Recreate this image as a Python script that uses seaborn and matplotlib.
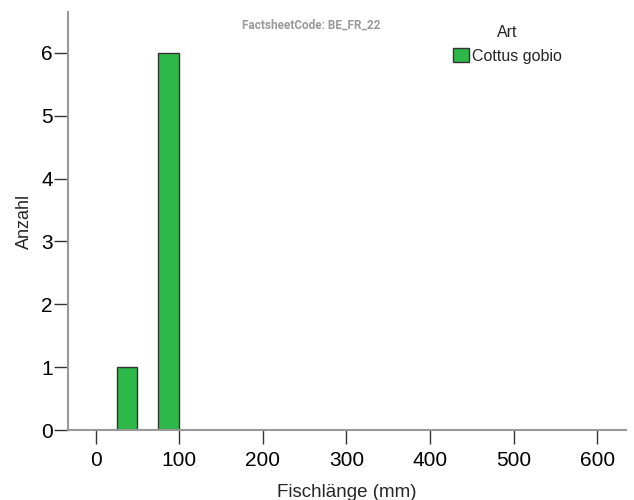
import numpy as np
import pandas as pd
import matplotlib
matplotlib.use("Agg")
import matplotlib.pyplot as plt
import seaborn as sns
from matplotlib.patches import Patch

# Histogram bins (mm) and counts per bin
bin_left = [25, 75]
bin_width = 25
counts = [1, 6]
species = ["Cottus gobio", "Cottus gobio"]

x_ticks = [0, 100, 200, 300, 400, 500, 600]
y_ticks = [0, 1, 2, 3, 4, 5, 6]

df = pd.DataFrame({
    "mid": [b + bin_width / 2 for b in bin_left],
    "Anzahl": counts,
    "Art": species,
})

sns.set_style("white")
plt.rcParams["font.family"] = ["Liberation Sans", "DejaVu Sans"]

fig = plt.figure(figsize=(6.34, 5.0), dpi=100)
ax = fig.add_axes([0.1073, 0.14, 0.8797, 0.836])

sns.histplot(data=df, x="mid", weights="Anzahl", hue="Art",
             binwidth=bin_width, binrange=(min(bin_left), max(bin_left) + bin_width),
             palette=["#2db84a"], alpha=1, edgecolor="#333333", linewidth=1,
             ax=ax, legend=False)

# drop empty bins so they don't leave an edge on the baseline
for p in list(ax.patches):
    if p.get_height() == 0:
        p.remove()

ax.set_xlim(-33, 634)
ax.set_ylim(0, 6.65)
ax.set_xticks(x_ticks)
ax.set_yticks(y_ticks)
ax.tick_params(axis="both", labelsize=15, colors="#333333", labelcolor="black",
               direction="out", width=1, bottom=True, left=True)
ax.tick_params(axis="x", length=10, pad=5)
ax.tick_params(axis="y", length=10, pad=1)

for s in ["top", "right"]:
    ax.spines[s].set_visible(False)
for s in ["left", "bottom"]:
    ax.spines[s].set_color("#999999")
    ax.spines[s].set_linewidth(1.5)

ax.set_xlabel("Fischlänge (mm)", fontsize=13.5, labelpad=10)
ax.set_ylabel("Anzahl", fontsize=13, labelpad=6)

fig.text(311 / 634, 1 - 25 / 500, "FactsheetCode: BE_FR_22", fontsize=8.5,
         color="#999999", fontweight="bold", family="Roboto",
         ha="center", va="center")

handles = [Patch(facecolor="#2db84a", edgecolor="#333333", label=species[0])]
leg = fig.legend(handles=handles, title="Art", loc="upper left",
                 bbox_to_anchor=(0.695, 0.975), frameon=False, fontsize=11.5,
                 title_fontsize=11.5, handlelength=0.95, handleheight=0.95,
                 handletextpad=0.2, borderpad=0.3)

fig.savefig("out.png", dpi=100)
